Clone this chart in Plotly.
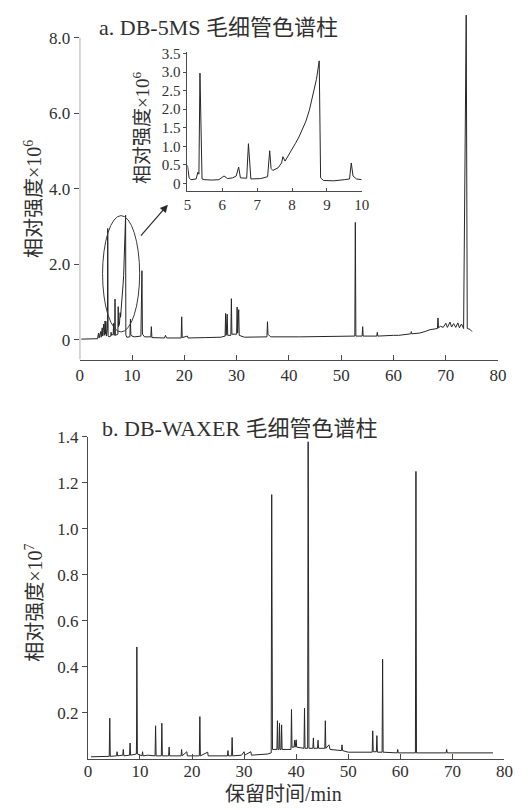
import plotly.graph_objects as go

# ---------------- data ----------------
# a. DB-5MS full chromatogram (retention time / min, intensity x1e6)
a_time = [0.3, 3.4, 3.6, 3.7, 4.0, 4.1, 4.3, 4.4, 4.6, 4.7, 4.85, 4.95, 5.0, 5.1, 5.3, 5.36, 5.43,
          5.6, 5.95, 6.0, 6.1, 6.4, 6.49, 6.55, 6.7, 6.75, 6.81, 7.3, 7.36, 7.42, 7.6, 7.73, 7.82,
          8.0, 8.15, 8.29, 8.4, 8.47, 8.6, 8.66, 8.78, 8.82, 9.0, 9.6, 9.7, 9.78, 10.0, 10.5,
          11.7, 11.9, 12.0, 12.4, 13.6, 13.7, 13.8, 16.2, 16.4, 16.6, 19.4, 19.5, 19.6, 20.6, 20.7,
          24.0, 27.0, 27.8, 27.9, 28.0, 28.2, 28.3, 28.9, 29.0, 29.1, 30.0, 30.1, 30.2, 30.4, 30.5,
          31.5, 35.8, 35.9, 36.0, 36.5, 42.0, 48.0, 52.6, 52.7, 52.8, 54.0, 54.1, 54.2, 56.8, 56.9,
          57.0, 60.0, 61.0, 63.3, 63.4, 63.5, 65.0, 66.0, 67.0, 68.4, 68.5, 68.6, 69.0, 69.5, 70.0,
          70.3, 70.8, 71.1, 71.5, 71.9, 72.3, 72.6, 73.0, 73.4, 73.9, 74.1, 74.6, 75.0]
a_int = [0.02, 0.03, 0.18, 0.05, 0.22, 0.07, 0.32, 0.10, 0.42, 0.12, 0.50, 0.15, 0.49, 0.10, 0.30, 2.95, 0.10,
         0.08, 0.10, 0.20, 0.12, 0.15, 0.44, 0.12, 0.13, 1.08, 0.12, 0.15, 0.88, 0.35, 0.42, 0.72, 0.60,
         0.95, 1.15, 1.46, 1.70, 2.00, 2.35, 2.58, 3.30, 0.13, 0.07, 0.08, 0.55, 0.13, 0.10, 0.08,
         0.10, 1.83, 0.15, 0.08, 0.08, 0.35, 0.06, 0.05, 0.12, 0.05, 0.05, 0.61, 0.06, 0.10, 0.05,
         0.06, 0.07, 0.10, 0.70, 0.12, 0.68, 0.12, 0.12, 1.09, 0.15, 0.15, 0.87, 0.18, 0.80, 0.12,
         0.07, 0.08, 0.48, 0.15, 0.08, 0.08, 0.10, 0.10, 3.11, 0.10, 0.10, 0.35, 0.10, 0.10, 0.20,
         0.10, 0.12, 0.12, 0.16, 0.22, 0.16, 0.18, 0.22, 0.27, 0.30, 0.58, 0.32, 0.36, 0.33, 0.44,
         0.33, 0.47, 0.34, 0.43, 0.33, 0.45, 0.32, 0.42, 0.30, 8.60, 0.30, 0.28, 0.22]

# inset: DB-5MS, 5-10 min (intensity x1e6)
inset_time = [5.0, 5.05, 5.1, 5.25, 5.3, 5.33, 5.36, 5.39, 5.42, 5.5, 5.7, 5.9, 6.0, 6.05, 6.15, 6.3,
              6.4, 6.47, 6.52, 6.7, 6.75, 6.79, 6.82, 7.1, 7.3, 7.36, 7.4, 7.45, 7.6, 7.7, 7.74, 7.8,
              7.9, 8.0, 8.1, 8.2, 8.3, 8.4, 8.5, 8.6, 8.7, 8.78, 8.82, 8.9, 9.2, 9.5, 9.65, 9.7, 9.75,
              9.85, 10.0]
inset_int = [0.49, 0.15, 0.10, 0.12, 0.30, 0.25, 2.97, 1.20, 0.12, 0.10, 0.09, 0.10, 0.18, 0.20, 0.13, 0.15,
             0.20, 0.44, 0.15, 0.14, 1.07, 0.30, 0.12, 0.13, 0.18, 0.88, 0.40, 0.35, 0.42, 0.55, 0.72, 0.60,
             0.75, 0.92, 1.08, 1.25, 1.47, 1.68, 1.98, 2.35, 2.80, 3.30, 0.15, 0.08, 0.07, 0.10, 0.12, 0.55, 0.20,
             0.12, 0.10]

# b. DB-WAXER chromatogram (intensity x1e7)
b_time = [0.6, 4.1, 4.2, 4.3, 5.5, 5.6, 5.7, 6.7, 6.8, 6.9, 8.0, 8.1, 8.2, 9.3, 9.35, 9.4, 9.5, 10.4, 10.5,
          10.6, 11.5, 12.9, 13.0, 13.1, 14.1, 14.2, 14.3, 15.5, 15.6, 15.7, 17.9, 18.0, 18.1, 19.0, 19.1,
          21.4, 21.5, 21.6, 23.0, 23.1, 26.8, 26.9, 27.0, 27.6, 27.7, 27.8, 29.5, 30.0, 30.1, 31.3, 31.4,
          34.5, 35.2, 35.3, 35.45, 36.3, 36.4, 36.5, 36.7, 36.8, 36.9, 37.1, 37.2, 37.3, 39.0, 39.1, 39.2,
          39.6, 39.7, 39.8, 40.0, 40.1, 41.5, 41.6, 41.7, 42.2, 42.3, 42.45, 43.2, 43.3, 43.4, 44.1, 44.2,
          44.3, 45.5, 45.6, 45.7, 46.3, 46.5, 48.7, 48.8, 48.9, 50.0, 54.6, 54.7, 54.8, 55.4, 55.5, 55.6,
          56.5, 56.6, 56.7, 59.4, 59.5, 59.6, 62.9, 63.0, 63.1, 68.8, 68.9, 69.0, 77.8]
b_int = [0.008, 0.010, 0.176, 0.010, 0.012, 0.030, 0.012, 0.015, 0.040, 0.012, 0.015, 0.068, 0.015, 0.020, 0.090,
         0.486, 0.020, 0.012, 0.030, 0.012, 0.015, 0.012, 0.143, 0.012, 0.012, 0.154, 0.012, 0.012, 0.050, 0.012,
         0.012, 0.040, 0.012, 0.030, 0.012, 0.012, 0.183, 0.012, 0.028, 0.012, 0.012, 0.035, 0.012, 0.012, 0.092,
         0.012, 0.015, 0.030, 0.015, 0.030, 0.015, 0.020, 0.025, 1.149, 0.040, 0.040, 0.165, 0.040, 0.040, 0.154,
         0.040, 0.040, 0.147, 0.040, 0.040, 0.214, 0.050, 0.050, 0.080, 0.050, 0.082, 0.050, 0.045, 0.219, 0.045,
         0.045, 1.379, 0.045, 0.045, 0.090, 0.045, 0.045, 0.080, 0.045, 0.045, 0.165, 0.045, 0.060, 0.040, 0.035,
         0.060, 0.035, 0.028, 0.028, 0.121, 0.030, 0.030, 0.100, 0.028, 0.028, 0.433, 0.028, 0.025, 0.040, 0.025,
         0.025, 1.250, 0.025, 0.025, 0.040, 0.025, 0.025]

x_ticks = [0, 10, 20, 30, 40, 50, 60, 70, 80]
a_yticks = [0, 2, 4, 6, 8]
a_yticktext = ["0", "2.0", "4.0", "6.0", "8.0"]
inset_xticks = [5, 6, 7, 8, 9, 10]
inset_yticks = [0, 0.5, 1.0, 1.5, 2.0, 2.5, 3.0, 3.5]
inset_yticktext = ["0", "0.5", "1.0", "1.5", "2.0", "2.5", "3.0", "3.5"]
b_yticks = [0.2, 0.4, 0.6, 0.8, 1.0, 1.2, 1.4]
b_yticktext = ["0.2", "0.4", "0.6", "0.8", "1.0", "1.2", "1.4"]

title_a = "a. DB-5MS 毛细管色谱柱"
title_b = "b. DB-WAXER 毛细管色谱柱"
ylab_a = "相对强度×10<sup>6</sup>"
ylab_b = "相对强度×10<sup>7</sup>"
xlab = "保留时间/min"

# ---------------- figure ----------------
W, H = 532, 810
LINE = "#262626"
AX = "#4a4a4a"
TXT = "#303030"
SERIF = "Liberation Serif, Times New Roman, Noto Sans CJK SC, serif"
MIX = "Liberation Serif, Noto Sans CJK SC, serif"

def px(x):
    return x / W

def py(y):
    return 1 - y / H

fig = go.Figure()
fig.add_trace(go.Scatter(x=a_time, y=a_int, mode="lines", line=dict(color=LINE, width=1),
                         xaxis="x", yaxis="y", showlegend=False, hoverinfo="skip"))
fig.add_trace(go.Scatter(x=inset_time, y=inset_int, mode="lines", line=dict(color=LINE, width=1),
                         xaxis="x2", yaxis="y2", showlegend=False, hoverinfo="skip"))
fig.add_trace(go.Scatter(x=b_time, y=b_int, mode="lines", line=dict(color=LINE, width=1),
                         xaxis="x3", yaxis="y3", showlegend=False, hoverinfo="skip"))

tickfont = dict(family=SERIF, size=17, color=TXT)
inset_tickfont = dict(family=SERIF, size=15, color=TXT)

common_x = dict(showgrid=False, zeroline=False, showline=True, linecolor=AX, linewidth=1,
                ticks="inside", ticklen=5, tickwidth=1, tickcolor=AX)
common_y = dict(showgrid=False, zeroline=False, ticks="outside", ticklen=5, tickwidth=1,
                tickcolor=AX)

fig.update_layout(
    width=W, height=H,
    margin=dict(l=0, r=0, t=0, b=0),
    paper_bgcolor="white", plot_bgcolor="rgba(0,0,0,0)",
    xaxis=dict(domain=[px(77.6), px(506.5)], range=[0, 80], anchor="y",
               tickvals=x_ticks, tickfont=tickfont, **common_x),
    yaxis=dict(domain=[py(355), py(5)], range=[-0.523, 8.63], anchor="x",
               tickvals=a_yticks, ticktext=a_yticktext, showline=False,
               tickfont=tickfont, **common_y),
    xaxis2=dict(domain=[px(188), px(366.7)], range=[5, 10], anchor="y2",
                tickvals=inset_xticks, tickfont=inset_tickfont, **{**common_x, "ticklen": 3}),
    yaxis2=dict(domain=[py(184), py(44)], range=[-0.197, 3.527], anchor="x2",
                tickvals=inset_yticks, ticktext=inset_yticktext, showline=True,
                linecolor=AX, linewidth=1, tickfont=inset_tickfont,
                **{**common_y, "ticklen": 3}),
    xaxis3=dict(domain=[px(86), px(513)], range=[0, 80], anchor="y3",
                tickvals=x_ticks, tickfont=tickfont, ticklabelstandoff=-3, **common_x),
    yaxis3=dict(domain=[py(759), py(433.3)], range=[0, 1.4], anchor="x3",
                tickvals=b_yticks, ticktext=b_yticktext, showline=True,
                linecolor=AX, linewidth=1, tickfont=tickfont, **common_y),
)

# main y-axis line of panel a stops at 8.0
fig.add_shape(type="line", xref="x", yref="y", x0=0, x1=0, y0=-0.523, y1=8.0,
              line=dict(color=AX, width=1), layer="above")
# ellipse marking the 5-10 min region
fig.add_shape(type="circle", xref="x", yref="y", x0=4.37, x1=11.46, y0=0.21, y1=3.29,
              line=dict(color="#3a3a3a", width=1))

annotations = [
    dict(text=title_a, x=px(95), y=py(18.5), xanchor="left", yanchor="middle",
         font=dict(family=MIX, size=22, color=TXT)),
    dict(text=title_b, x=px(98), y=py(425), xanchor="left", yanchor="middle",
         font=dict(family=MIX, size=22, color=TXT)),
    dict(text=ylab_a, x=px(29), y=py(192), textangle=-90, xanchor="center", yanchor="middle",
         font=dict(family=MIX, size=20, color=TXT)),
    dict(text=ylab_a, x=px(140), y=py(120), textangle=-90, xanchor="center", yanchor="middle",
         font=dict(family=MIX, size=19, color=TXT)),
    dict(text=ylab_b, x=px(30), y=py(601), textangle=-90, xanchor="center", yanchor="middle",
         font=dict(family=MIX, size=20, color=TXT)),
    dict(text=xlab, x=px(286), y=py(795), xanchor="center", yanchor="middle",
         font=dict(family=MIX, size=20, color=TXT)),
]
for a in annotations:
    a.update(xref="paper", yref="paper", showarrow=False)
    fig.add_annotation(**a)

# arrow pointing from the ellipse to the inset
fig.add_annotation(x=16.86, y=3.58, ax=11.46, ay=2.72, xref="x", yref="y", axref="x", ayref="y",
                   text="", showarrow=True, arrowhead=2, arrowsize=1.3, arrowwidth=1.2,
                   arrowcolor="#2a2a2a")

fig.write_html("out.html", config={"displayModeBar": False},
               post_script="document.body.style.margin='0';document.body.style.overflow='hidden';")
